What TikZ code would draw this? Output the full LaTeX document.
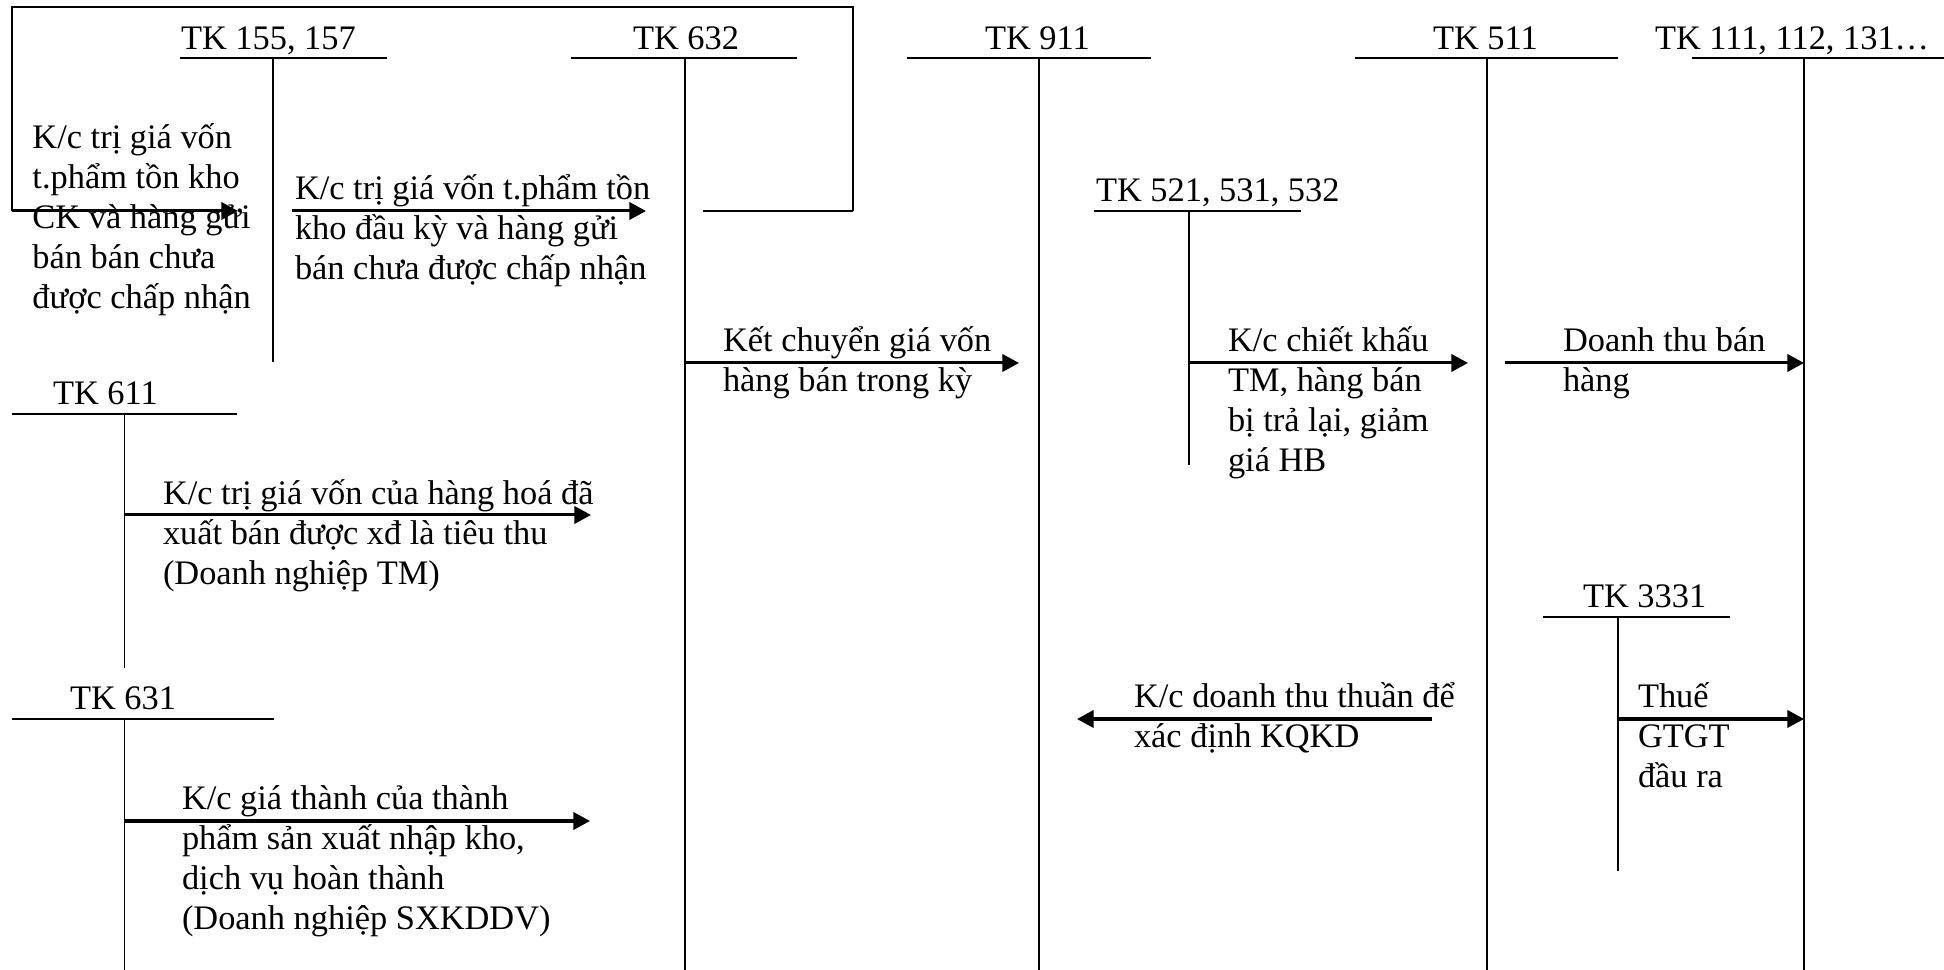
\documentclass[tikz,border=0pt]{standalone}
\usepackage{fontspec}
\setmainfont{Liberation Serif}
\usetikzlibrary{arrows.meta}
\newcommand\mlines[1]{\begin{tabular}[t]{@{}l@{}}#1\end{tabular}}
\begin{document}
\begin{tikzpicture}[x=0.349pt,y=-0.349pt,
  font=\fontsize{12}{13.95}\selectfont,
  tline/.style={line width=1pt},
  vline/.style={line width=0.6pt},
  flow/.style={line width=1.05pt,-{Triangle[length=5.8pt,width=6pt]}},
  lbl/.style={anchor=base west,inner sep=0pt,outer sep=0pt}]
\useasboundingbox (0,0) rectangle (1944,970);

% ---- T accounts ----
% TK 155, 157
\draw[tline] (180,58) -- (387,58);
\node[lbl] (n155) at (181,50) {TK 155, 157};
\coordinate (v155a) at (273,58); \coordinate (v155b) at (273,362);
\draw[vline] (v155a) -- (v155b);
% TK 632
\draw[tline] (571,58) -- (797,58);
\node[lbl] (n632) at (633,50) {TK 632};
\coordinate (v632a) at (685,58); \coordinate (v632b) at (685,970);
\draw[vline] (v632a) -- (v632b);
% TK 911
\draw[tline] (907,58) -- (1151,58);
\node[lbl] (n911) at (985,50) {TK 911};
\coordinate (v911a) at (1039,58); \coordinate (v911b) at (1039,970);
\draw[vline] (v911a) -- (v911b);
% TK 511
\draw[tline] (1355,58) -- (1618,58);
\node[lbl] (n511) at (1433,50) {TK 511};
\coordinate (v511a) at (1487,58); \coordinate (v511b) at (1487,970);
\draw[vline] (v511a) -- (v511b);
% TK 111
\draw[tline] (1692,58) -- (1944,58);
\node[lbl] (n111) at (1655,50) {TK 111, 112, 131…};
\coordinate (v111a) at (1804,58); \coordinate (v111b) at (1804,970);
\draw[vline] (v111a) -- (v111b);
% TK 521
\draw[tline] (1094,211) -- (1301,211);
\node[lbl] (n521) at (1096,202) {TK 521, 531, 532};
\coordinate (v521a) at (1189,211); \coordinate (v521b) at (1189,465);
\draw[vline] (v521a) -- (v521b);
% TK 3331
\draw[tline] (1543,617) -- (1730,617);
\node[lbl] (n3331) at (1583,608) {TK 3331};
\coordinate (v3331a) at (1618,617); \coordinate (v3331b) at (1618,871);
\draw[vline] (v3331a) -- (v3331b);
% TK 611
\draw[tline] (12,414) -- (237,414);
\node[lbl] (n611) at (53,405) {TK 611};
\coordinate (v611a) at (124.5,414); \coordinate (v611b) at (124.5,668);
\draw[vline] (v611a) -- (v611b);
% TK 631
\draw[tline] (12,719) -- (274,719);
\node[lbl] (n631) at (70,710) {TK 631};
\coordinate (v631a) at (124.5,719); \coordinate (v631b) at (124.5,970);
\draw[vline] (v631a) -- (v631b);

% ---- loop ----
\coordinate (l1) at (703,211); \coordinate (l2) at (853,211);
\coordinate (l3) at (853,7);   \coordinate (l4) at (12,7);
\coordinate (l5) at (12,211);  \coordinate (l6) at (238,211);
\draw[vline] (l2) -- (l3) -- (l4) -- (l5);
\draw[tline] (l1) -- (l2);
\draw[flow] (l5) -- (l6);
\node[lbl] (t1) at (32.5,149) {\mlines{K/c trị giá vốn\\t.phẩm tồn kho\\CK và hàng gửi\\bán bán chưa\\được chấp nhận}};

% ---- flows ----
\coordinate (a2s) at (292,211); \coordinate (a2e) at (646,211);
\draw[flow] (a2s) -- (a2e);
\node[lbl] (t2) at (295,200) {\mlines{K/c trị giá vốn t.phẩm tồn\\kho đầu kỳ và hàng gửi\\bán chưa được chấp nhận}};

\coordinate (a3s) at (685,363); \coordinate (a3e) at (1019,363);
\draw[flow] (a3s) -- (a3e);
\node[lbl] (t3) at (723,352) {\mlines{Kết chuyển giá vốn\\hàng bán trong kỳ}};

\coordinate (a4s) at (1189,363); \coordinate (a4e) at (1468,363);
\draw[flow] (a4s) -- (a4e);
\node[lbl] (t4) at (1228,352) {\mlines{K/c chiết khấu\\TM, hàng bán\\bị trả lại, giảm\\giá HB}};

\coordinate (a5s) at (1505,363); \coordinate (a5e) at (1804,363);
\draw[flow] (a5s) -- (a5e);
\node[lbl] (t5) at (1563,352) {\mlines{Doanh thu bán\\hàng}};

\coordinate (a6s) at (1618,719); \coordinate (a6e) at (1804,719);
\draw[flow] (a6s) -- (a6e);
\node[lbl] (t6) at (1638,708) {\mlines{Thuế\\GTGT\\đầu ra}};

\coordinate (a7s) at (1432,719); \coordinate (a7e) at (1077,719);
\draw[flow] (a7s) -- (a7e);
\node[lbl] (t7) at (1134,708) {\mlines{K/c doanh thu thuần để\\xác định KQKD}};

\coordinate (a8s) at (124.5,515); \coordinate (a8e) at (591,515);
\draw[flow] (a8s) -- (a8e);
\node[lbl] (t8) at (163,505) {\mlines{K/c trị giá vốn của hàng hoá đã\\xuất bán được xđ là tiêu thu\\(Doanh nghiệp TM)}};

\coordinate (a9s) at (124.5,821); \coordinate (a9e) at (590,821);
\draw[flow] (a9s) -- (a9e);
\node[lbl] (t9) at (182,810) {\mlines{K/c giá thành của thành\\phẩm sản xuất nhập kho,\\dịch vụ hoàn thành\\(Doanh nghiệp SXKDDV)}};
\end{tikzpicture}
\end{document}
